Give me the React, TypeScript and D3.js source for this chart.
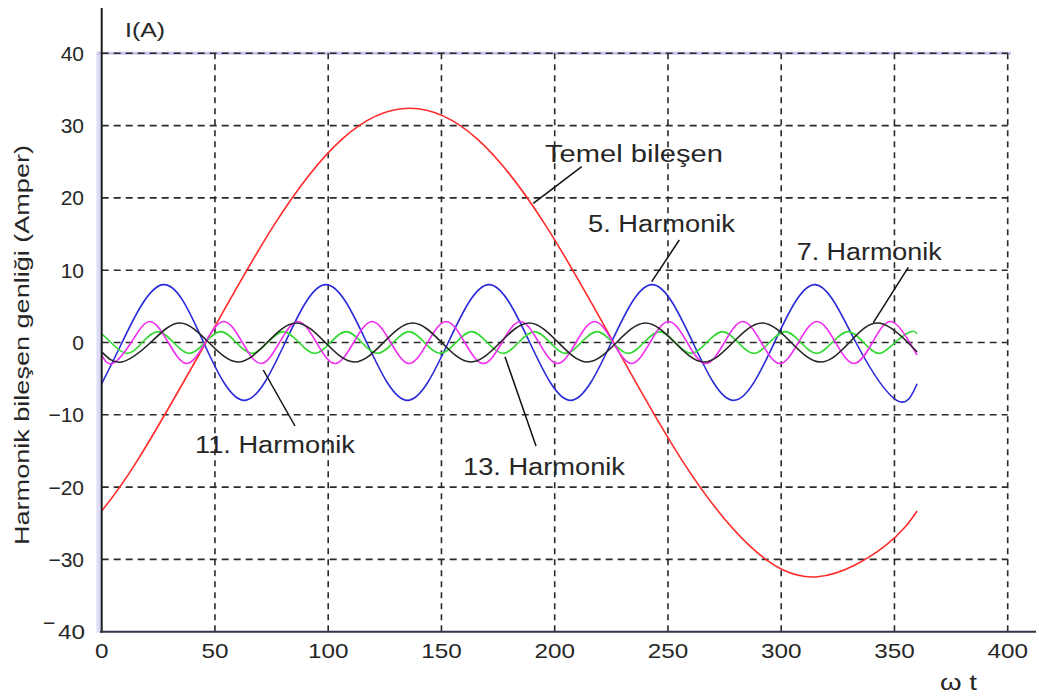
import React from 'react';
import * as d3 from 'd3';

const xTicks = [0, 50, 100, 150, 200, 250, 300, 350, 400];
const yTicks = [-40, -30, -20, -10, 0, 10, 20, 30, 40];

// Temel bileşen (fundamental)
const fundamental: [number, number][] = [
  [0, -23.3], [16, -16.2], [46, 0], [76, 16.2], [106, 28.1], [136, 32.4], [166, 28.1],
  [196, 16.2], [226, 0], [256, -16.2], [286, -28.1], [316, -32.4], [346, -28.1], [360, -23.3],
];

// 5. Harmonik
const harmonic5: [number, number][] = [
  [0, -5.7], [9, 0], [27, 8], [45, 0], [63, -8], [81, 0], [99, 8], [117, 0], [135, -8],
  [153, 0], [171, 8], [189, 0], [207, -8], [225, 0], [243, 8], [261, 0], [279, -8],
  [297, 0], [315, 8], [333, 0], [351, -8], [360, -5.7],
];

// 7. Harmonik
const harmonic7: [number, number][] = [
  [0, -1.3], [8.7, -2.7], [21.6, 0], [34.4, 2.7], [47.3, 0], [60.2, -2.7], [73.0, 0],
  [85.9, 2.7], [98.7, 0], [111.6, -2.7], [124.4, 0], [137.3, 2.7], [150.1, 0], [163.0, -2.7],
  [175.9, 0], [188.7, 2.7], [201.6, 0], [214.4, -2.7], [227.3, 0], [240.1, 2.7], [253.0, 0],
  [265.9, -2.7], [278.7, 0], [291.6, 2.7], [304.4, 0], [317.3, -2.7], [330.1, 0], [343.0, 2.7],
  [355.9, 0], [360, -1.3],
];

// 11. Harmonik
const harmonic11: [number, number][] = [
  [0, -1.75], [4.8, -2.9], [13.0, 0], [21.2, 2.9], [29.4, 0], [37.6, -2.9], [45.7, 0],
  [53.9, 2.9], [62.1, 0], [70.3, -2.9], [78.5, 0], [86.6, 2.9], [94.8, 0], [103.0, -2.9],
  [111.2, 0], [119.4, 2.9], [127.6, 0], [135.8, -2.9], [143.9, 0], [152.1, 2.9], [160.3, 0],
  [168.5, -2.9], [176.7, 0], [184.8, 2.9], [193.0, 0], [201.2, -2.9], [209.4, 0], [217.6, 2.9],
  [225.8, 0], [234.0, -2.9], [242.1, 0], [250.3, 2.9], [258.5, 0], [266.7, -2.9], [274.9, 0],
  [283.0, 2.9], [291.2, 0], [299.4, -2.9], [307.6, 0], [315.8, 2.9], [324.0, 0], [332.1, -2.9],
  [340.3, 0], [348.5, 2.9], [356.7, 0], [360, -1.75],
];

// 13. Harmonik
const harmonic13: [number, number][] = [
  [0, 1.2], [4.1, 0], [11.0, -1.5], [17.9, 0], [24.8, 1.5], [31.7, 0], [38.7, -1.5], [45.6, 0],
  [52.5, 1.5], [59.4, 0], [66.4, -1.5], [73.3, 0], [80.2, 1.5], [87.1, 0], [94.0, -1.5],
  [101.0, 0], [107.9, 1.5], [114.8, 0], [121.8, -1.5], [128.7, 0], [135.6, 1.5], [142.5, 0],
  [149.5, -1.5], [156.4, 0], [163.3, 1.5], [170.2, 0], [177.2, -1.5], [184.0, 0], [191.0, 1.5],
  [197.9, 0], [204.8, -1.5], [211.7, 0], [218.7, 1.5], [225.6, 0], [232.5, -1.5], [239.4, 0],
  [246.4, 1.5], [253.3, 0], [260.2, -1.5], [267.1, 0], [274.1, 1.5], [281.0, 0], [287.9, -1.5],
  [294.8, 0], [301.8, 1.5], [308.7, 0], [315.6, -1.5], [322.5, 0], [329.5, 1.5], [336.4, 0],
  [343.3, -1.5], [350.2, 0], [357.2, 1.5], [360, 1.2],
];

const seriesList = [
  { name: 'fundamental', data: fundamental, color: '#ff2b2b' },
  { name: 'h5', data: harmonic5, color: '#2a2ad8' },
  { name: 'h13', data: harmonic13, color: '#36d836' },
  { name: 'h11', data: harmonic11, color: '#f02ef0' },
  { name: 'h7', data: harmonic7, color: '#262626' },
];

// annotation labels with their pointer lines
const annotations = [
  { text: 'Temel bileşen', tx: 545, ty: 161.7, tl: 178, x1: 581.7, y1: 166.7, x2: 533.3, y2: 203.3 },
  { text: '5. Harmonik', tx: 588, ty: 232, tl: 147, x1: 679.3, y1: 240, x2: 651.7, y2: 281.7 },
  { text: '7. Harmonik', tx: 796.7, ty: 260, tl: 145, x1: 908.3, y1: 267.3, x2: 873.3, y2: 322.7 },
  { text: '11. Harmonik', tx: 195, ty: 453, tl: 160, x1: 295, y1: 426, x2: 263.3, y2: 370 },
  { text: '13. Harmonik', tx: 463, ty: 475, tl: 162, x1: 536, y1: 446, x2: 505, y2: 356.7 },
];

const W = 1039;
const H = 697;
const FONT = "'Liberation Sans', Arial, sans-serif";
const TEXT = '#262626';

export default function App() {
  const x = d3.scaleLinear().domain([0, 400]).range([101.7, 1007.7]);
  const y = d3.scaleLinear().domain([-40, 40]).range([631.7, 53.3]);
  const line = d3
    .line<[number, number]>()
    .x((d) => x(d[0]))
    .y((d) => y(d[1]))
    .curve(d3.curveNatural);

  const gridColor = '#2a2a2a';

  return (
    <svg
      width={W}
      height={H}
      viewBox={`0 0 ${W} ${H}`}
      style={{ position: 'absolute', left: 0, top: 0, display: 'block', background: '#fff' }}
    >
      <rect x={0} y={0} width={W} height={H} fill="#ffffff" />
      {/* lavender frame parts */}
      <rect x={96.5} y={y(40) - 1} width={5} height={y(-40) - y(40) + 2} fill="#dcdcf6" />
      <line x1={97} x2={1011} y1={y(40)} y2={y(40)} stroke="#c4c4ee" strokeWidth={3} />

      {/* grid */}
      {yTicks
        .filter((v) => v !== -40)
        .map((v) => (
          <line
            key={'gy' + v}
            x1={x(0)}
            x2={x(400)}
            y1={y(v)}
            y2={y(v)}
            stroke={gridColor}
            strokeWidth={1.6}
            strokeDasharray="7,5"
          />
        ))}
      {xTicks
        .filter((v) => v !== 0)
        .map((v) => (
          <line
            key={'gx' + v}
            x1={x(v)}
            x2={x(v)}
            y1={y(40)}
            y2={y(-40)}
            stroke={gridColor}
            strokeWidth={1.6}
            strokeDasharray="6,5"
          />
        ))}

      {/* curves */}
      {seriesList.map((s) => (
        <path key={s.name} d={line(s.data) || ''} fill="none" stroke={s.color} strokeWidth={1.6} />
      ))}

      {/* axes */}
      <line x1={x(0)} x2={x(0)} y1={8} y2={y(-40) + 1} stroke="#1e1e1e" strokeWidth={2} />
      <line x1={100} x2={1036} y1={y(-40)} y2={y(-40)} stroke="#33334a" strokeWidth={2} />

      {/* y tick labels */}
      {yTicks.map((v) =>
        v === -40 ? (
          <text key={'ty' + v} fontFamily={FONT} fontSize={21} fill={TEXT}>
            <tspan x={43} y={y(v) - 2}>−</tspan>
            <tspan x={58} y={y(v) + 7.5} textLength={27} lengthAdjust="spacingAndGlyphs">40</tspan>
          </text>
        ) : (
          <text
            key={'ty' + v}
            x={84}
            y={y(v) + 7.5}
            textAnchor="end"
            fontFamily={FONT}
            fontSize={21}
            fill={TEXT}
          >
            {v < 0 ? '−' + Math.abs(v) : String(v)}
          </text>
        )
      )}

      {/* x tick labels */}
      {xTicks.map((v) => (
        <text
          key={'tx' + v}
          x={x(v)}
          y={658}
          textAnchor="middle"
          fontFamily={FONT}
          fontSize={21}
          fill={TEXT}
          textLength={String(v).length * 13.5}
          lengthAdjust="spacingAndGlyphs"
        >
          {v}
        </text>
      ))}

      {/* axis titles */}
      <text x={125} y={36.5} fontFamily={FONT} fontSize={21} fill={TEXT} textLength={40} lengthAdjust="spacingAndGlyphs">
        I(A)
      </text>
      <text x={940} y={690} fontFamily={FONT} fontSize={22} fill={TEXT} textLength={37} lengthAdjust="spacingAndGlyphs">
        ω t
      </text>
      <text
        transform={`translate(29, 345) rotate(-90)`}
        x={-200}
        y={0}
        fontFamily={FONT}
        fontSize={20}
        fill={TEXT}
        textLength={400}
        lengthAdjust="spacingAndGlyphs"
      >
        Harmonik bileşen genliği (Amper)
      </text>

      {/* annotations */}
      {annotations.map((a) => (
        <g key={a.text}>
          <line x1={a.x1} y1={a.y1} x2={a.x2} y2={a.y2} stroke="#111" strokeWidth={1.5} />
          <text
            x={a.tx}
            y={a.ty}
            fontFamily={FONT}
            fontSize={23}
            fill={TEXT}
            textLength={a.tl}
            lengthAdjust="spacingAndGlyphs"
          >
            {a.text}
          </text>
        </g>
      ))}
    </svg>
  );
}
